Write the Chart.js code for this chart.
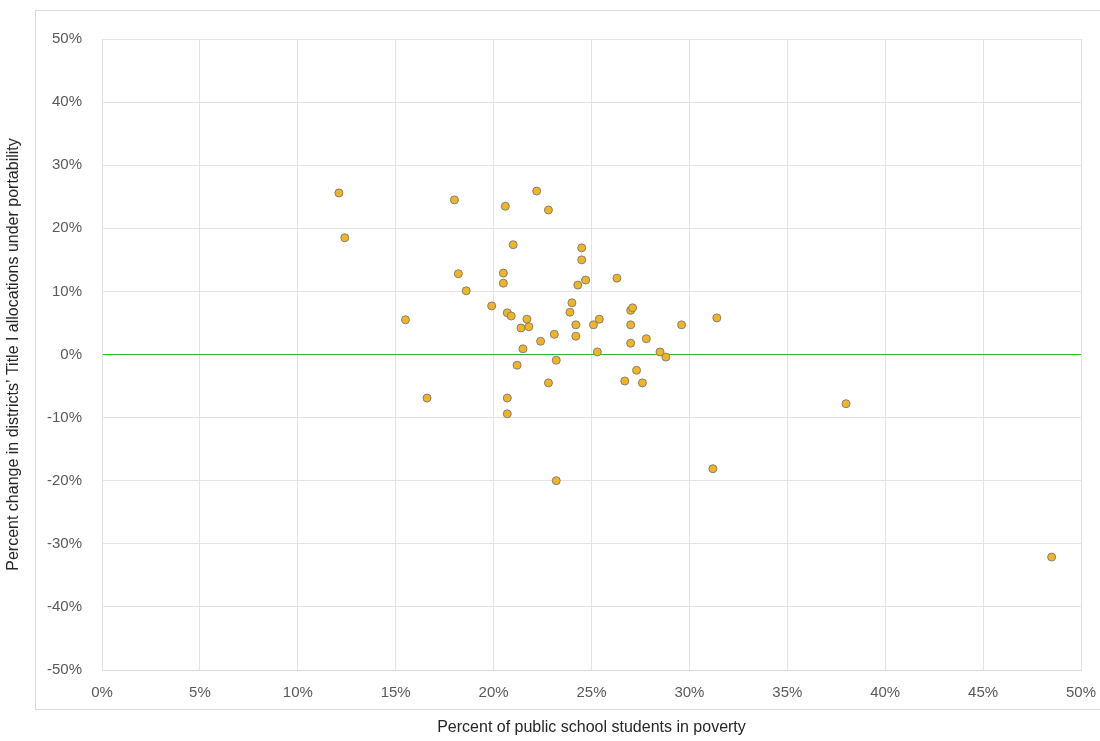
<!DOCTYPE html>
<html>
<head>
<meta charset="utf-8">
<script src="https://cdn.jsdelivr.net/npm/chart.js@4"></script>
<style>
  body { margin: 0; background: #fff; }
  #wrap { position: relative; width: 1100px; height: 741px; }
  #frame { position: absolute; left: 35px; top: 10px; width: 1070px; height: 700px; border: 1px solid #d9d9d9; box-sizing: border-box; pointer-events: none; }
</style>
</head>
<body>
<div id="wrap">
  <canvas id="chart" width="1100" height="741"></canvas>
  <div id="frame"></div>
</div>
<script>
// percent of students in poverty
const povertyPct = [12.1, 12.4, 15.5, 16.6, 18.0, 18.2, 18.6, 19.9, 20.6, 20.5, 20.5, 20.7, 20.9, 20.7, 20.7,
  21.0, 21.2, 21.4, 21.5, 21.7, 21.8, 22.2, 22.4, 22.8, 22.8, 23.1, 23.2, 23.2, 23.9, 24.0, 24.2, 24.2, 24.3,
  24.5, 24.5, 24.7, 25.1, 25.4, 25.3, 26.3, 26.7, 27.0, 27.1, 27.0, 27.0, 27.3, 27.6, 27.8, 28.5, 28.8, 29.6,
  31.2, 31.4, 38.0, 48.5];
// percent change in Title I allocations
const changePct = [25.6, 18.5, 5.5, -6.9, 24.5, 12.8, 10.1, 7.7, 23.5, 12.9, 11.3, 6.6, 6.1, -6.9, -9.4,
  17.4, -1.7, 4.2, 0.9, 5.6, 4.4, 25.9, 2.1, 22.9, -4.5, 3.2, -0.9, -20.0, 6.7, 8.2, 4.7, 2.9, 11.0,
  16.9, 15.0, 11.8, 4.7, 5.6, 0.4, 12.1, -4.2, 7.0, 7.4, 4.7, 1.8, -2.5, -4.5, 2.5, 0.4, -0.4, 4.7,
  -18.1, 5.8, -7.8, -32.1];

const points = povertyPct.map((x, i) => ({ x: x, y: changePct[i] }));
const tickColor = '#595959';
const font = { family: 'Liberation Sans, Arial, sans-serif', size: 15 };

new Chart(document.getElementById('chart').getContext('2d'), {
  type: 'scatter',
  data: {
    datasets: [{
      data: points,
      backgroundColor: '#f2b51f',
      borderColor: '#7f7f7f',
      borderWidth: 1,
      pointRadius: 4,
      pointHoverRadius: 4
    }]
  },
  options: {
    responsive: false,
    animation: false,
    layout: { padding: { top: 39, right: 19, left: 0, bottom: 0 } },
    plugins: { legend: { display: false }, tooltip: { enabled: false } },
    scales: {
      x: {
        min: 0, max: 50,
        ticks: { stepSize: 5, color: tickColor, font: font, callback: v => v + '%', padding: 14 },
        grid: { color: '#e3e3e3', drawTicks: false },
        border: { color: '#d9d9d9' },
        title: { display: true, text: 'Percent of public school students in poverty', color: '#262626', font: { family: font.family, size: 16 } },
        afterFit: s => { s.height = 71; s.paddingRight = 0; s.paddingLeft = 0; }
      },
      y: {
        min: -50, max: 50,
        ticks: { stepSize: 10, color: tickColor, font: font, callback: v => v + '%', padding: 20 },
        grid: { color: c => c.tick.value === 0 ? '#2eb82e' : '#e3e3e3', drawTicks: false },
        border: { color: '#e3e3e3' },
        title: { display: true, text: 'Percent change in districts\u2019 Title I allocations under portability', color: '#262626', font: { family: font.family, size: 16 } },
        afterFit: s => { s.width = 102; }
      }
    }
  }
});
</script>
</body>
</html>
